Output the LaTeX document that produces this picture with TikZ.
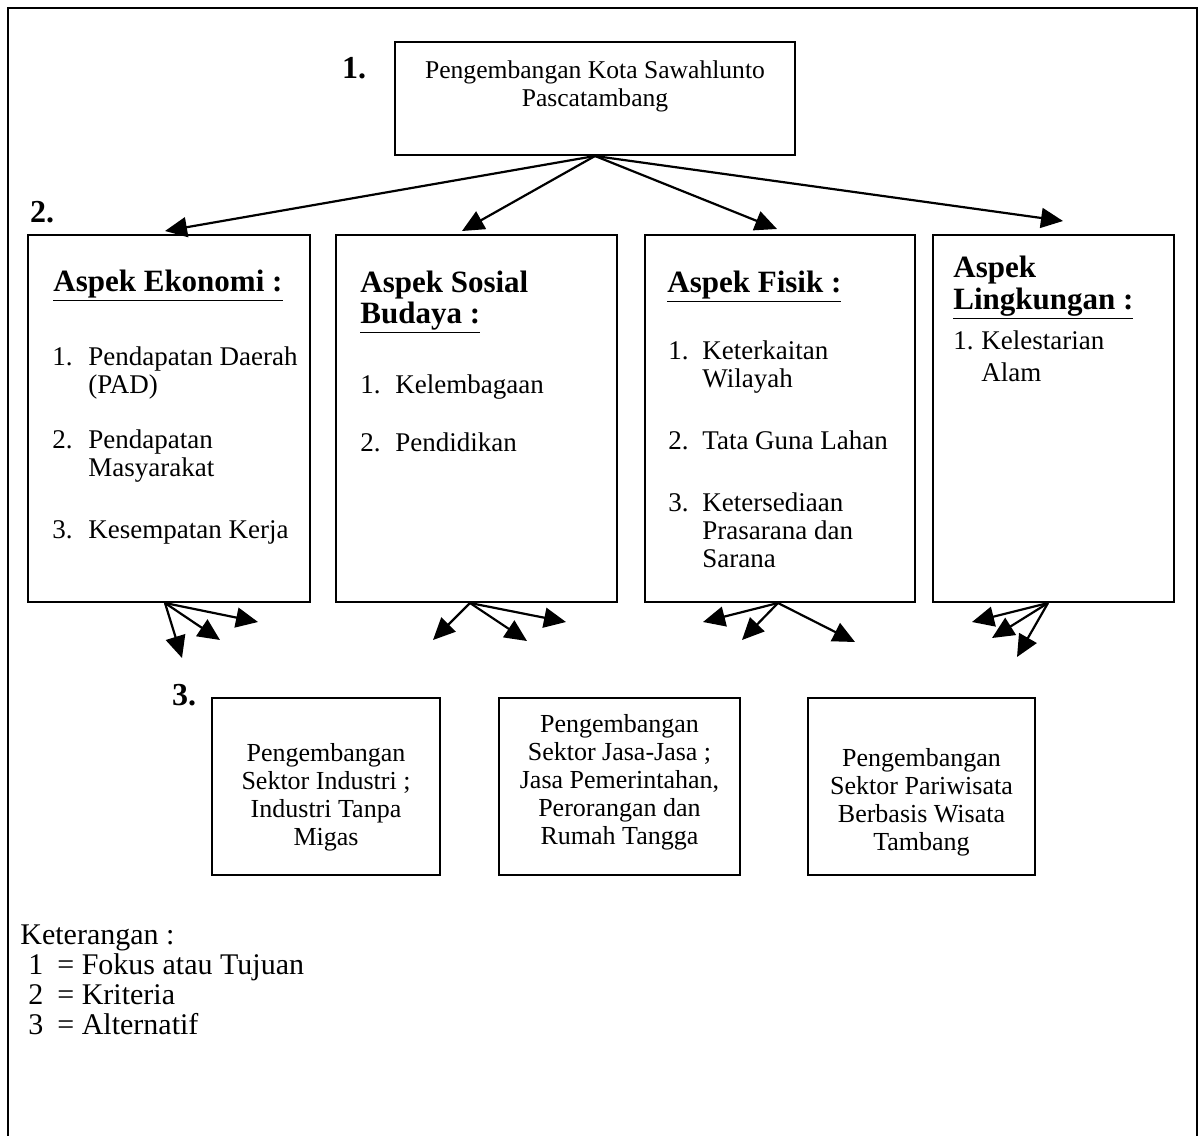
\documentclass[tikz,border=0pt]{standalone}
\usepackage{fontspec}
\setmainfont{Liberation Serif}
\usetikzlibrary{arrows.meta,calc}

\begin{document}
\begin{tikzpicture}[x=0.5pt,y=-0.5pt,>={Triangle[length=11pt,width=10pt]},
 box/.style={draw,line width=1pt,inner sep=0pt},
 arr/.style={->,line width=1.1pt},
 num/.style={font=\fontsize{16}{18}\selectfont\bfseries,inner sep=0pt},
 hd/.style={font=\fontsize{15.5}{15.5}\selectfont\bfseries,inner sep=0pt,anchor=base west},
 body/.style={font=\fontsize{13.5}{14}\selectfont,inner sep=0pt,anchor=base west},
 ctr/.style={font=\fontsize{13}{14}\selectfont,inner sep=0pt,anchor=base},
 leg/.style={font=\fontsize{15}{15}\selectfont,inner sep=0pt,anchor=base west}]
\useasboundingbox (0,0) rectangle (1204,1135);
% frame
\draw[line width=1pt] (8,1150) -- (8,8) -- (1197,8) -- (1197,1150);
% level 1
\node[num] (n1) at (354,68) {1.};
\node[box,minimum width=200pt,minimum height=56.5pt] (top) at (595,98.5) {};
\node[ctr,font=\fontsize{12.8}{14}\selectfont] (toptxt) at (595,78) {\begin{tabular}[t]{@{}c@{}}Pengembangan Kota Sawahlunto\\Pascatambang\end{tabular}};
% level 2
\node[num] (n2) at (42,212) {2.};
\node[box,minimum width=141pt,minimum height=183.5pt] (eko) at (169,418.5) {};
\node[box,minimum width=140.5pt,minimum height=183.5pt] (sos) at (476.5,418.5) {};
\node[box,minimum width=135pt,minimum height=183.5pt] (fis) at (780,418.5) {};
\node[box,minimum width=120.5pt,minimum height=183.5pt] (lin) at (1053.5,418.5) {};
\node[hd] (ekoh) at (53,291) {\underline{Aspek Ekonomi :}};
\node[body] (ekot) at (52,365) {\begin{tabular}[t]{@{}p{18pt}@{}l@{}}
1. & Pendapatan Daerah\\ & (PAD)\\[13.5pt]
2. & Pendapatan\\ & Masyarakat\\[17pt]
3. & Kesempatan Kerja\end{tabular}};
\node[hd] (sosh) at (360,292) {\begin{tabular}[t]{@{}l@{}}Aspek Sosial\\\underline{Budaya :}\end{tabular}};
\node[body] (sost) at (360,393) {\begin{tabular}[t]{@{}p{17.5pt}@{}l@{}}
1. & Kelembagaan\\[15pt]
2. & Pendidikan\end{tabular}};
\node[hd] (fish) at (667,292) {\underline{Aspek Fisik :}};
\node[body] (fist) at (668,359) {\begin{tabular}[t]{@{}p{17pt}@{}l@{}}
1. & Keterkaitan\\ & Wilayah\\[17pt]
2. & Tata Guna Lahan\\[17pt]
3. & Ketersediaan\\ & Prasarana dan\\ & Sarana\end{tabular}};
\node[hd] (linh) at (953,277) {\begin{tabular}[t]{@{}l@{}}Aspek\\[0.5pt]\underline{Lingkungan :}\end{tabular}};
\node[body] (lint) at (953,349) {\begin{tabular}[t]{@{}p{14pt}@{}l@{}}
1. & Kelestarian\\[2pt] & Alam\end{tabular}};
% level 3
\node[num] (n3) at (184,695) {3.};
\node[box,minimum width=114pt,minimum height=88.5pt] (altA) at (326,786.5) {};
\node[box,minimum width=120.5pt,minimum height=88.5pt] (altB) at (619.5,786.5) {};
\node[box,minimum width=113.5pt,minimum height=88.5pt] (altC) at (921.5,786.5) {};
\node[ctr] (altAt) at (326,761) {\begin{tabular}[t]{@{}c@{}}Pengembangan\\Sektor Industri ;\\Industri Tanpa\\Migas\end{tabular}};
\node[ctr] (altBt) at (619.5,732) {\begin{tabular}[t]{@{}c@{}}Pengembangan\\Sektor Jasa-Jasa ;\\Jasa Pemerintahan,\\Perorangan dan\\Rumah Tangga\end{tabular}};
\node[ctr] (altCt) at (921.5,766) {\begin{tabular}[t]{@{}c@{}}Pengembangan\\Sektor Pariwisata\\Berbasis Wisata\\Tambang\end{tabular}};
% arrows
\draw[arr] (top.south) -- ($(eko.north)+(-4,-3)$);
\draw[arr] (top.south) -- ($(sos.north)+(-14.5,-3)$);
\draw[arr] (top.south) -- ($(fis.north)+(-3,-5)$);
\draw[arr] (top.south) -- ($(lin.north)+(9.5,-13)$);
\foreach \dx/\dy in {17/55,55/37,93/19}
  \draw[arr] ($(eko.south)+(-4,0)$) -- ++(\dx,\dy);
\foreach \dx/\dy in {-37/37,57/38,96/19}
  \draw[arr] ($(sos.south)+(-6.5,0)$) -- ++(\dx,\dy);
\foreach \dx/\dy in {-75/19,-36/37,77/39}
  \draw[arr] ($(fis.south)+(-2,0)$) -- ++(\dx,\dy);
\foreach \dx/\dy in {-76/19,-56/35,-31/54}
  \draw[arr] ($(lin.south)+(-5.5,0)$) -- ++(\dx,\dy);
% legend
\node[leg] (ket) at (20,944) {Keterangan :};
\node[leg] (legt) at (28,974) {\begin{tabular}[t]{@{}l@{\hspace{7pt}}l@{}}
1 & = Fokus atau Tujuan\\
2 & = Kriteria\\
3 & = Alternatif\end{tabular}};
\end{tikzpicture}
\end{document}
